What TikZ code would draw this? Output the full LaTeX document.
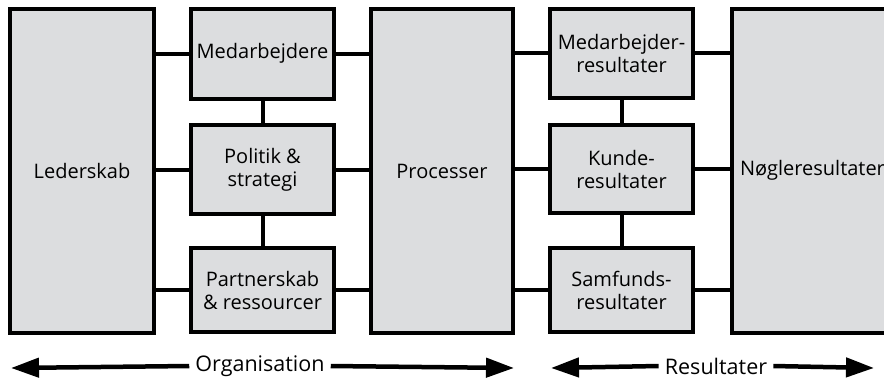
\documentclass[tikz,border=0pt]{standalone}
\usepackage{fontspec}
\setmainfont{Open Sans}
\usetikzlibrary{arrows.meta}
\definecolor{boxgrey}{HTML}{DCDDDF}
\tikzset{
  box/.style={draw=black, fill=boxgrey, line width=4pt, rectangle, inner sep=0pt,
    align=center, font=\fontsize{20}{23}\selectfont},
  link/.style={line width=4pt},
  bigarrow/.style={line width=4.5pt, -{Triangle[length=28pt,width=19pt]}},
  lbl/.style={font=\fontsize{21.5}{24}\selectfont, inner sep=0pt}
}
\begin{document}
\begin{tikzpicture}[x=1pt,y=-1pt]
\useasboundingbox (0,0) rectangle (884,384);
% boxes
\node[box, minimum width=144pt, minimum height=324pt] (led) at (82,171) {Lederskab};
\node[box, minimum width=143pt, minimum height=90pt] (med) at (262.5,53.5) {Medarbejdere};
\node[box, minimum width=143pt, minimum height=89pt] (pol) at (262.5,169.5) {Politik \&\\strategi};
\node[box, minimum width=143pt, minimum height=84pt] (par) at (262.5,290) {Partnerskab\\\& ressourcer};
\node[box, minimum width=142pt, minimum height=324pt] (proc) at (442,171) {Processer};
\node[box, minimum width=143pt, minimum height=89pt] (mr) at (621.5,53) {Medarbejder-\\resultater};
\node[box, minimum width=143pt, minimum height=88pt] (kr) at (621.5,169) {Kunde-\\resultater};
\node[box, minimum width=143pt, minimum height=84pt] (sr) at (621.5,290) {Samfunds-\\resultater};
\begin{scope}
\clip (0,0) rectangle (884,384);
\node[box, minimum width=200pt, minimum height=324pt, anchor=west] (nog) at (730,171) {};
\end{scope}
\node[box, draw=none, fill=none, anchor=west] (nogt) at (738,170) {Nøgleresultater};
% connectors
\draw[link] (med.west) -- (med.west -| led.east);
\draw[link] (pol.west) -- (pol.west -| led.east);
\draw[link] (par.west) -- (par.west -| led.east);
\draw[link] (med.east) -- (med.east -| proc.west);
\draw[link] (pol.east) -- (pol.east -| proc.west);
\draw[link] (par.east) -- (par.east -| proc.west);
\draw[link] (med.south) -- (pol.north);
\draw[link] (pol.south) -- (par.north);
\draw[link] (mr.west) -- (mr.west -| proc.east);
\draw[link] (kr.west) -- (kr.west -| proc.east);
\draw[link] (sr.west) -- (sr.west -| proc.east);
\draw[link] (mr.east) -- (mr.east -| nog.west);
\draw[link] (kr.east) -- (kr.east -| nog.west);
\draw[link] (sr.east) -- (sr.east -| nog.west);
\draw[link] (mr.south) -- (kr.north);
\draw[link] (kr.south) -- (sr.north);
% bottom arrows
\coordinate (o1) at (11,368);
\coordinate (o2) at (514,368);
\node[lbl, inner xsep=6pt] (org) at (260,366) {Organisation};
\draw[bigarrow] (org.west) -- (o1);
\draw[bigarrow] (org.east) -- (o2);
\coordinate (r1) at (551,368);
\coordinate (r2) at (874,368);
\node[lbl, inner xsep=6pt] (res) at (716,366) {Resultater};
\draw[bigarrow] (res.west) -- (r1);
\draw[bigarrow] (res.east) -- (r2);
\end{tikzpicture}
\end{document}
